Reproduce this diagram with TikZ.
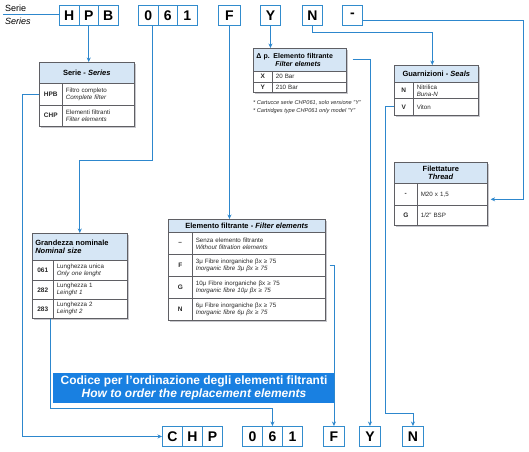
\documentclass[tikz,border=0pt]{standalone}
\usepackage{fontspec}
\setmainfont{Liberation Sans}
\usetikzlibrary{arrows.meta,calc}
\definecolor{lineblue}{RGB}{45,135,205}
\definecolor{codeblue}{RGB}{50,140,205}
\definecolor{headblue}{RGB}{214,230,245}
\definecolor{tgray}{RGB}{95,95,100}
\definecolor{shd}{RGB}{200,200,205}
\definecolor{bannerblue}{RGB}{25,128,225}
\definecolor{txt}{RGB}{40,40,40}
\begin{document}
\begin{tikzpicture}[x=1pt,y=-1pt,
  codebox/.style={draw=codeblue, line width=0.9pt, fill=white, anchor=north west, inner sep=0pt,
    minimum width=19.5pt, minimum height=20pt, font=\fontsize{14}{14}\selectfont\bfseries},
  conn/.style={draw=lineblue, line width=0.9pt},
  arr/.style={conn, -{Stealth[length=4.5pt,width=4pt]}},
  hd/.style={draw=tgray, fill=headblue, line width=0.6pt, anchor=north west, inner sep=0pt,
    font=\fontsize{7.5}{8.6}\selectfont\bfseries, align=center},
  ky/.style={draw=tgray, fill=white, line width=0.6pt, anchor=north west, inner sep=0pt,
    font=\fontsize{6.5}{7.5}\selectfont\bfseries, text=txt},
  ds/.style={draw=tgray, fill=white, line width=0.6pt, anchor=north west, inner xsep=3.5pt,
    inner ysep=0pt, font=\fontsize{6.2}{7}\selectfont, align=left, text=txt},
  lbl/.style={inner sep=0pt, anchor=west},
]
\useasboundingbox (0,0) rectangle (529,451);
\fill[white] (0,0) rectangle (529,451);

% ---------- top code ----------
\node[lbl, font=\fontsize{9}{9}\selectfont] (serie) at (5,8) {Serie};
\node[lbl, font=\fontsize{9}{9}\selectfont\itshape] (series) at (5,21) {Series};
\node[codebox] (tH) at (59,5) {H};
\node[codebox] (tP) at (78.5,5) {P};
\node[codebox] (tB) at (98,5) {B};
\node[codebox] (t0) at (138,5) {0};
\node[codebox] (t6) at (157.5,5) {6};
\node[codebox] (t1) at (177,5) {1};
\node[codebox, minimum width=22pt] (tF) at (218,5) {F};
\node[codebox, minimum width=20pt] (tY) at (260,5) {Y};
\node[codebox, minimum width=20pt] (tN) at (302,5) {N};
\node[codebox, minimum width=20pt] (tD) at (342,5) {-};
\coordinate (sl) at (3,14.5);
\draw[conn] (sl) -- (sl -| tH.west);

% ---------- shadows ----------
\fill[shd] (41,64) rectangle (136,128);
\fill[shd] (255,50) rectangle (348,94);
\fill[shd] (396,67) rectangle (480,117);
\fill[shd] (396,164) rectangle (489,227);
\fill[shd] (34,235) rectangle (129,320);
\fill[shd] (170,221) rectangle (327,322);

% ---------- Serie table ----------
\node[hd, minimum width=95pt, minimum height=21pt] (serH) at (39,62) {Serie - \textit{Series}};
\node[ky, minimum width=23pt, minimum height=21.5pt] (kHPB) at (39,83) {HPB};
\node[ds, minimum width=72pt, text width=65pt, minimum height=21.5pt] (dHPB) at (62,83) {Filtro completo\\\textit{Complete filter}};
\node[ky, minimum width=23pt, minimum height=21.5pt] (kCHP) at (39,104.5) {CHP};
\node[ds, minimum width=72pt, text width=65pt, minimum height=21.5pt] (dCHP) at (62,104.5) {Elementi filtranti\\\textit{Filter elements}};

% ---------- Delta p table ----------
\node[hd, minimum width=93pt, minimum height=23pt, text width=87pt, align=left, inner xsep=3pt,
  font=\fontsize{7}{8}\selectfont\bfseries] (dpH) at (253,48)
  {Δ p. Elemento filtrante\\\hspace*{19pt}\textit{Filter elemets}};
\node[ky, minimum width=19pt, minimum height=10.5pt] (kX) at (253,71) {X};
\node[ds, minimum width=74pt, text width=67pt, minimum height=10.5pt] (dX) at (272,71) {20 Bar};
\node[ky, minimum width=19pt, minimum height=10.5pt] (kYY) at (253,81.5) {Y};
\node[ds, minimum width=74pt, text width=67pt, minimum height=10.5pt] (dYY) at (272,81.5) {210 Bar};
\node[inner sep=0pt, anchor=north west, align=left, font=\fontsize{5.6}{7.8}\selectfont\itshape, text=txt] (fn) at (253,100)
  {* Cartucce serie CHP061, solo versione "Y"\\* Cartridges type CHP061 only model "Y"};

% ---------- Guarnizioni table ----------
\node[hd, minimum width=84pt, minimum height=17pt] (guH) at (394,65) {Guarnizioni - \textit{Seals}};
\node[ky, minimum width=19pt, minimum height=16pt] (kNN) at (394,82) {N};
\node[ds, minimum width=65pt, text width=58pt, minimum height=16pt] (dNN) at (413,82) {Nitrilica\\\textit{Buna-N}};
\node[ky, minimum width=19pt, minimum height=17pt] (kV) at (394,98) {V};
\node[ds, minimum width=65pt, text width=58pt, minimum height=17pt] (dV) at (413,98) {Viton};

% ---------- Filettature table ----------
\node[hd, minimum width=93pt, minimum height=21pt] (fiH) at (394,162) {Filettature\\\textit{Thread}};
\node[ky, minimum width=23pt, minimum height=22pt] (kM) at (394,183) {-};
\node[ds, minimum width=70pt, text width=63pt, minimum height=22pt] (dM) at (417,183) {M20 x 1,5};
\node[ky, minimum width=23pt, minimum height=20pt] (kG) at (394,205) {G};
\node[ds, minimum width=70pt, text width=63pt, minimum height=20pt] (dG) at (417,205) {1/2" BSP};

% ---------- Grandezza table ----------
\node[hd, minimum width=95pt, minimum height=27pt, text width=89pt, align=left, inner xsep=3pt] (grH) at (32,233)
  {Grandezza nominale\\\textit{Nominal size}};
\node[ky, minimum width=21pt, minimum height=20pt] (k061) at (32,260) {061};
\node[ds, minimum width=74pt, text width=67pt, minimum height=20pt] (d061) at (53,260) {Lunghezza unica\\\textit{Only one lenght}};
\node[ky, minimum width=21pt, minimum height=19pt] (k282) at (32,280) {282};
\node[ds, minimum width=74pt, text width=67pt, minimum height=19pt] (d282) at (53,280) {Lunghezza 1\\\textit{Leinght 1}};
\node[ky, minimum width=21pt, minimum height=19pt] (k283) at (32,299) {283};
\node[ds, minimum width=74pt, text width=67pt, minimum height=19pt] (d283) at (53,299) {Lunghezza 2\\\textit{Leinght 2}};

% ---------- Elemento table ----------
\node[hd, minimum width=157pt, minimum height=13pt] (elH) at (168,219) {Elemento filtrante - \textit{Filter elements}};
\node[ky, minimum width=24pt, minimum height=22pt] (kE0) at (168,232) {–};
\node[ds, minimum width=133pt, text width=126pt, minimum height=22pt] (dE0) at (192,232) {Senza elemento filtrante\\\textit{Without filtration elements}};
\node[ky, minimum width=24pt, minimum height=22pt] (kEF) at (168,254) {F};
\node[ds, minimum width=133pt, text width=126pt, minimum height=22pt] (dEF) at (192,254) {3μ Fibre inorganiche βx ≥ 75\\\textit{Inorganic fibre 3μ βx ≥ 75}};
\node[ky, minimum width=24pt, minimum height=22pt] (kEG) at (168,276) {G};
\node[ds, minimum width=133pt, text width=126pt, minimum height=22pt] (dEG) at (192,276) {10μ Fibre inorganiche βx ≥ 75\\\textit{Inorganic fibre 10μ βx ≥ 75}};
\node[ky, minimum width=24pt, minimum height=22pt] (kEN) at (168,298) {N};
\node[ds, minimum width=133pt, text width=126pt, minimum height=22pt] (dEN) at (192,298) {6μ Fibre inorganiche βx ≥ 75\\\textit{Inorganic fibre 6μ βx ≥ 75}};

% ---------- banner ----------
\node[fill=bannerblue, text=white, minimum width=282pt, minimum height=30pt, inner sep=0pt, align=center,
  font=\fontsize{12}{13}\selectfont\bfseries] (banner) at (194,388)
  {Codice per l'ordinazione degli elementi filtranti\\\textit{How to order the replacement elements}};

% ---------- bottom code ----------
\node[codebox, minimum width=20pt] (bC) at (162,426) {C};
\node[codebox, minimum width=20pt] (bH) at (182,426) {H};
\node[codebox, minimum width=20pt] (bP) at (202,426) {P};
\node[codebox, minimum width=20pt] (b0) at (242,426) {0};
\node[codebox, minimum width=20pt] (b6) at (262,426) {6};
\node[codebox, minimum width=20pt] (b1) at (282,426) {1};
\node[codebox, minimum width=21pt] (bF) at (323,426) {F};
\node[codebox, minimum width=21pt] (bY) at (359,426) {Y};
\node[codebox, minimum width=21pt] (bN) at (402,426) {N};

% ---------- connectors ----------
\draw[arr] (tP.south) -- (tP.south |- serH.north);
\draw[arr] (kHPB.west) -- ++(-17,0) |- (bC.west);
\draw[arr] ($(t0.south)+(4.25,0)$) -- ++(0,135) -| (grH.north);
\draw[arr] ($(k283.south east)+(-3,0)$) -- ++(0,90) -| (b6.north);
\draw[arr] (tF.south) -- (tF.south |- elH.north);
\draw[arr] ($(dEF.east)+(4,0)$) -| (bF.north);
\draw[arr] (tY.south) -- (tY.south |- dpH.north);
\draw[arr] ($(dpH.east)+(6,0)$) -| (bY.north);
\draw[arr] (tN.south) -- ++(0,7) -| ($(guH.north)+(-4,0)$);
\draw[arr] (kV.west) -- ++(-9,0) -- ++(0,306.5) -| (bN.north);
\draw[arr] ($(tD.east)+(0,5)$) -- ++(161,0) |- ($(dM.east)+(3,5)$);
\end{tikzpicture}
\end{document}
